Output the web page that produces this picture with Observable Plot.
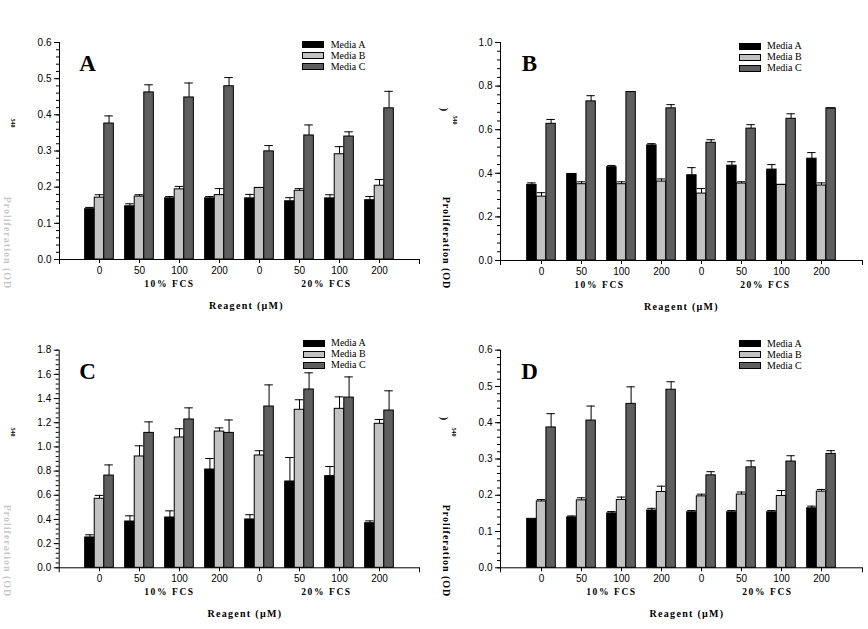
<!DOCTYPE html>
<html><head><meta charset="utf-8">
<script src="https://cdn.jsdelivr.net/npm/d3@7"></script>
<script src="https://cdn.jsdelivr.net/npm/@observablehq/plot@0.6"></script>
<style>
body{margin:0;background:#fff;}
#wrap{position:relative;width:868px;height:629px;overflow:hidden;background:#fff;}
.panel{position:absolute;}
.leg{position:absolute;font:10px "Liberation Serif","Times New Roman",serif;color:#000;}
.leg .sw{position:absolute;width:22px;height:7px;box-sizing:border-box;border:1px solid #000;}
.leg .tx{position:absolute;line-height:10px;white-space:nowrap;}
.ylab{position:absolute;font:bold 10px "Liberation Serif","Times New Roman",serif;letter-spacing:1px;white-space:nowrap;transform:translate(-50%,-50%) rotate(90deg);color:#000;}
.ysub{position:absolute;font:bold 6px "Liberation Serif","Times New Roman",serif;white-space:nowrap;transform:translate(-50%,-50%) rotate(90deg);color:#000;}
</style></head><body><div id="wrap"></div><script>
// ---------- data ----------
const fcsLevels = ["10% FCS", "20% FCS"];
const reagentDoses = ["0", "50", "100", "200"];
const mediaNames = ["Media A", "Media B", "Media C"];

const A_mediaA = [0.139, 0.147, 0.169, 0.169, 0.169, 0.161, 0.169, 0.164];
const A_mediaA_err = [0.005, 0.007, 0.005, 0.005, 0.011, 0.010, 0.010, 0.010];
const A_mediaB = [0.171, 0.174, 0.194, 0.178, 0.198, 0.190, 0.291, 0.204];
const A_mediaB_err = [0.008, 0.005, 0.008, 0.018, 0.001, 0.006, 0.021, 0.017];
const A_mediaC = [0.376, 0.462, 0.448, 0.479, 0.299, 0.343, 0.340, 0.418];
const A_mediaC_err = [0.021, 0.021, 0.040, 0.024, 0.016, 0.029, 0.013, 0.047];

const B_mediaA = [0.347, 0.397, 0.428, 0.528, 0.391, 0.435, 0.417, 0.467];
const B_mediaA_err = [0.009, 0.002, 0.008, 0.008, 0.035, 0.018, 0.023, 0.028];
const B_mediaB = [0.293, 0.350, 0.350, 0.362, 0.307, 0.353, 0.347, 0.344];
const B_mediaB_err = [0.018, 0.011, 0.011, 0.012, 0.023, 0.008, 0.002, 0.012];
const B_mediaC = [0.627, 0.730, 0.773, 0.698, 0.540, 0.605, 0.650, 0.698];
const B_mediaC_err = [0.020, 0.026, 0.002, 0.017, 0.014, 0.018, 0.023, 0.002];

const C_mediaA = [0.251, 0.383, 0.416, 0.813, 0.400, 0.714, 0.758, 0.369];
const C_mediaA_err = [0.022, 0.047, 0.055, 0.091, 0.039, 0.198, 0.080, 0.019];
const C_mediaB = [0.571, 0.921, 1.078, 1.127, 0.929, 1.307, 1.315, 1.191];
const C_mediaB_err = [0.028, 0.088, 0.072, 0.030, 0.039, 0.083, 0.099, 0.036];
const C_mediaC = [0.763, 1.116, 1.227, 1.116, 1.334, 1.475, 1.408, 1.301];
const C_mediaC_err = [0.088, 0.091, 0.096, 0.107, 0.179, 0.138, 0.171, 0.163];

const D_mediaA = [0.135, 0.139, 0.150, 0.158, 0.153, 0.153, 0.153, 0.164];
const D_mediaA_err = [0, 0.004, 0.005, 0.006, 0.005, 0.005, 0.005, 0.006];
const D_mediaB = [0.183, 0.186, 0.187, 0.209, 0.197, 0.202, 0.198, 0.210];
const D_mediaB_err = [0.005, 0.007, 0.008, 0.016, 0.006, 0.007, 0.015, 0.006];
const D_mediaC = [0.387, 0.406, 0.452, 0.491, 0.255, 0.277, 0.293, 0.314];
const D_mediaC_err = [0.038, 0.040, 0.047, 0.022, 0.010, 0.018, 0.016, 0.009];

const yAxisLabel = "Proliferation (OD";
const yAxisSub = "540";
const xAxisTitle = "Reagent (µM)";

// ---------- layout / style ----------
const mediaColors = {"Media A": "#000000", "Media B": "#c2c2c2", "Media C": "#5e5e5e"};
const sansFont = "'Liberation Sans', Arial, Helvetica, sans-serif";
const serifFont = "'Liberation Serif', 'Times New Roman', Times, serif";

const groupKeys = fcsLevels.flatMap(f => reagentDoses.map(d => f + "|" + d));

const panels = [
  {id: "A", means: [A_mediaA, A_mediaB, A_mediaC], errs: [A_mediaA_err, A_mediaB_err, A_mediaC_err],
   yMax: 0.6, major: 0.1, minor: 0.02, left: 0, top: 0, mL: 59, mR: 15, mT: 42, mB: 55,
   fcsDx: [-10, -13], titleDx: 7, letter: [28, 12.5], legend: [302, 44.7, 330.7],
   ylab: {cx: 7, cy: 243, faint: true, subX: 13, subY: 123, parY: null}},
  {id: "B", means: [B_mediaA, B_mediaB, B_mediaC], errs: [B_mediaA_err, B_mediaB_err, B_mediaC_err],
   yMax: 1.0, major: 0.2, minor: 0.04, left: 434, top: 0, mL: 66, mR: 6, mT: 42, mB: 54,
   fcsDx: [-22, -16], titleDx: 0, letter: [29, 12.5], legend: [739.3, 46, 767],
   ylab: {cx: 445.5, cy: 243, faint: false, subX: 455, subY: 120, parY: 110}},
  {id: "C", means: [C_mediaA, C_mediaB, C_mediaC], errs: [C_mediaA_err, C_mediaB_err, C_mediaC_err],
   yMax: 1.8, major: 0.2, minor: 0.04, left: 0, top: 315, mL: 58.7, mR: 15, mT: 34.7, mB: 61.7,
   fcsDx: [-10, -13], titleDx: 5.5, letter: [28.3, 12.7], legend: [303, 343.3, 331],
   ylab: {cx: 7, cy: 551, faint: true, subX: 13, subY: 432, parY: null}},
  {id: "D", means: [D_mediaA, D_mediaB, D_mediaC], errs: [D_mediaA_err, D_mediaB_err, D_mediaC_err],
   yMax: 0.6, major: 0.1, minor: 0.02, left: 434, top: 315, mL: 66, mR: 6, mT: 34.7, mB: 61.7,
   fcsDx: [-10, -14], titleDx: 5.5, letter: [29, 12.3], legend: [739.3, 343.7, 767],
   ylab: {cx: 445.5, cy: 551, faint: false, subX: 454, subY: 432, parY: 419}}
];

const W = 434, H = 314;
const wrap = document.getElementById("wrap");

for (const p of panels) {
  const step = (W - p.mL - p.mR) / 9;
  const groupW = step * 0.717;
  const s = (step - groupW) / 2;
  const bw = groupW / 3;

  const rowsBy = mediaNames.map((m, i) => groupKeys.map((key, j) => ({
    key, media: m, value: p.means[i][j], err: p.errs[i][j]
  })));

  const ticksMajor = d3.range(0, p.yMax + 1e-9, p.major).map(v => +v.toFixed(3));
  const ticksMinor = d3.range(0, p.yMax + 1e-9, p.minor).map(v => +v.toFixed(3));
  const frameH = H - p.mT - p.mB;

  const marks = [];
  mediaNames.forEach((m, i) => {
    const insetLeft = s + i * bw;
    const insetRight = step - s - (i + 1) * bw;
    marks.push(Plot.barY(rowsBy[i], {x: "key", y: "value", fill: mediaColors[m], stroke: "#000", strokeWidth: 1, insetLeft, insetRight}));
  });
  mediaNames.forEach((m, i) => {
    const insetLeft = s + i * bw;
    const insetRight = step - s - (i + 1) * bw;
    const withErr = rowsBy[i].filter(r => r.err > 0);
    const dx = s + (i + 0.5) * bw - step / 2;
    marks.push(Plot.ruleX(withErr, {x: "key", y1: "value", y2: d => d.value + d.err, dx, stroke: "#000", strokeWidth: 1}));
    marks.push(Plot.tickY(withErr, {x: "key", y: d => d.value + d.err, insetLeft: insetLeft + 0.5, insetRight: insetRight + 0.5, stroke: "#000", strokeWidth: 1}));
  });
  marks.push(Plot.ruleY([0], {stroke: "#000", strokeWidth: 1}));
  marks.push(Plot.frame({anchor: "left", insetBottom: -4, stroke: "#000"}));
  marks.push(Plot.frame({anchor: "right", insetTop: frameH, insetBottom: -4, stroke: "#000"}));
  marks.push(Plot.axisY({ticks: ticksMajor, tickSize: 5, tickPadding: 3, tickFormat: d3.format(".1f"), label: null, fontSize: 10}));
  marks.push(Plot.axisY({ticks: ticksMinor, tickSize: 3, fill: "none", stroke: "#000", label: null}));
  marks.push(Plot.axisX({tickSize: 4, tickPadding: 3, tickFormat: k => k.split("|")[1], label: null, fontSize: 10}));
  fcsLevels.forEach((f, i) => {
    marks.push(Plot.text([{label: f, key: groupKeys[i * 4 + 2]}], {x: "key", text: "label", frameAnchor: "bottom", dy: 27, dx: p.fcsDx[i], fontFamily: serifFont, fontWeight: "bold", fontSize: 9.5}));
  });
  marks.push(Plot.text([xAxisTitle], {text: d => d, frameAnchor: "bottom", dy: 49, dx: p.titleDx, fontFamily: serifFont, fontWeight: "bold", fontSize: 10}));
  marks.push(Plot.text([p.id], {text: d => d, frameAnchor: "top-left", dx: p.letter[0], dy: p.letter[1], textAnchor: "middle", fontFamily: serifFont, fontWeight: "bold", fontSize: 23}));

  const svg = Plot.plot({
    width: W, height: H,
    marginLeft: p.mL, marginRight: p.mR, marginTop: p.mT, marginBottom: p.mB,
    style: {fontFamily: sansFont, fontSize: "10px", color: "#000", background: "transparent", overflow: "visible"},
    x: {type: "band", domain: groupKeys, paddingInner: 0, paddingOuter: 0.5},
    y: {domain: [0, p.yMax]},
    marks
  });
  d3.select(svg).selectAll("text").filter(function() { return /FCS/.test(this.textContent); }).attr("letter-spacing", "1.6");
  d3.select(svg).selectAll("text").filter(function() { return /Reagent/.test(this.textContent); }).attr("letter-spacing", "1.3");
  svg.classList.add("panel");
  svg.style.left = p.left + "px";
  svg.style.top = p.top + "px";
  svg.style.position = "absolute";
  wrap.appendChild(svg);

  // legend
  const leg = document.createElement("div");
  leg.className = "leg";
  leg.style.left = "0px"; leg.style.top = "0px";
  mediaNames.forEach((m, i) => {
    const cy = p.legend[1] + i * 11;
    const sw = document.createElement("div");
    sw.className = "sw";
    sw.style.left = p.legend[0] + "px";
    sw.style.top = (cy - 3.5) + "px";
    sw.style.background = mediaColors[m];
    leg.appendChild(sw);
    const tx = document.createElement("div");
    tx.className = "tx";
    tx.style.left = p.legend[2] + "px";
    tx.style.top = (cy - 5) + "px";
    tx.textContent = m;
    leg.appendChild(tx);
  });
  wrap.appendChild(leg);

  // y label
  const yl = document.createElement("div");
  yl.className = "ylab";
  yl.style.left = p.ylab.cx + "px";
  yl.style.top = p.ylab.cy + "px";
  if (p.ylab.faint) yl.style.opacity = "0.22";
  yl.textContent = yAxisLabel;
  wrap.appendChild(yl);
  const sub = document.createElement("div");
  sub.className = "ysub";
  sub.style.left = p.ylab.subX + "px";
  sub.style.top = p.ylab.subY + "px";
  sub.textContent = yAxisSub;
  wrap.appendChild(sub);
  if (p.ylab.parY != null) {
    const par = document.createElement("div");
    par.className = "ylab";
    par.style.left = (p.ylab.cx - 2) + "px";
    par.style.top = p.ylab.parY + "px";
    par.textContent = ")";
    wrap.appendChild(par);
  }
}
</script></body></html>
